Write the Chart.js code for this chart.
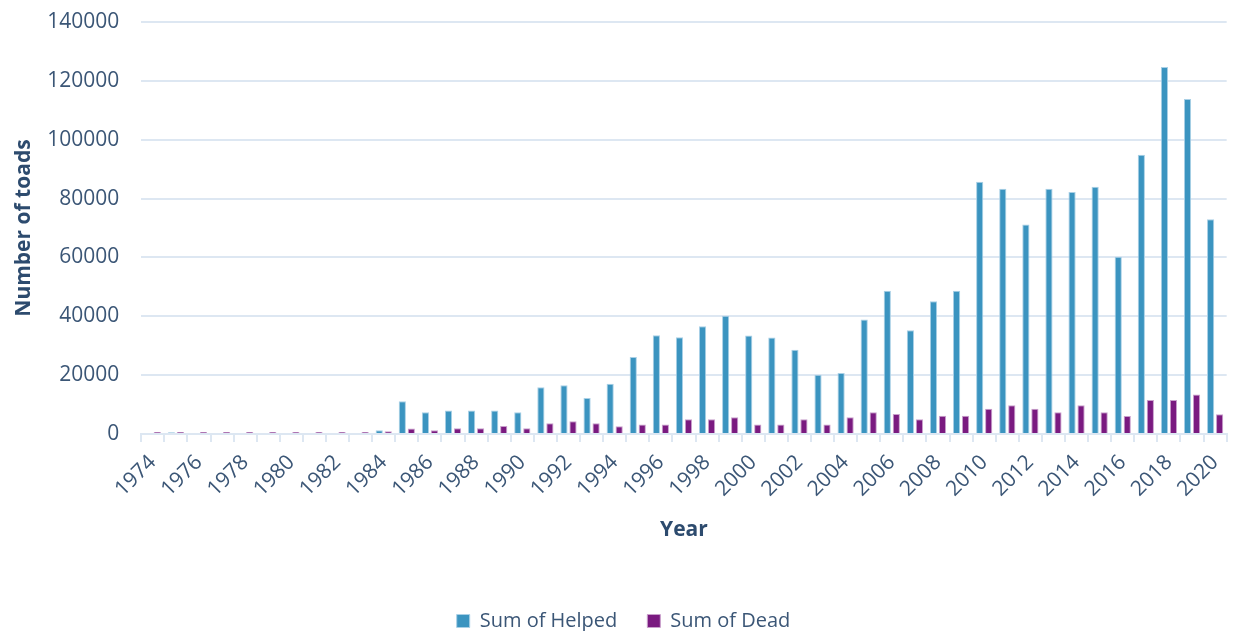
<!DOCTYPE html>
<html>
<head>
<meta charset="utf-8">
<script src="https://cdn.jsdelivr.net/npm/chart.js@4"></script>
<style>
  body { margin: 0; background: #fff; }
  #wrap { width: 1241px; height: 631px; position: relative; }
</style>
</head>
<body>
<div id="wrap"><canvas id="toads"></canvas></div>
<script>
// data
const years = ['1974','1975','1976','1977','1978','1979','1980','1981','1982','1983',
  '1984','1985','1986','1987','1988','1989','1990','1991','1992','1993',
  '1994','1995','1996','1997','1998','1999','2000','2001','2002','2003',
  '2004','2005','2006','2007','2008','2009','2010','2011','2012','2013',
  '2014','2015','2016','2017','2018','2019','2020'];

const helped = [0, 600, 0, 0, 0, 0, 0, 0, 0, 0,
  1300, 11100, 7400, 8000, 8000, 8000, 7400, 15900, 16600, 12200,
  17100, 26200, 33600, 32900, 36600, 40200, 33500, 32800, 28600, 20100,
  20700, 38900, 48700, 35300, 45100, 48700, 85700, 83300, 71200, 83300,
  82200, 84000, 60200, 94900, 124700, 113800, 73000];

const dead = [700, 700, 700, 700, 700, 700, 700, 700, 700, 700,
  900, 1900, 1300, 2000, 2000, 2700, 2000, 3700, 4300, 3700,
  2600, 3200, 3200, 5000, 5000, 5700, 3200, 3200, 5000, 3200,
  5700, 7400, 6800, 5000, 6200, 6200, 8600, 9800, 8600, 7400,
  9800, 7400, 6100, 11600, 11600, 13400, 6700];

const yTicks = [0, 20000, 40000, 60000, 80000, 100000, 120000, 140000];
// data

const textColor = '#3b5676';
const titleColor = '#2d4b6e';
const gridColor = '#dde7f2';

new Chart(document.getElementById('toads'), {
  type: 'bar',
  data: {
    labels: years,
    datasets: [{
      label: 'Sum of Helped',
      data: helped,
      backgroundColor: '#3b94c0',
      borderColor: '#a9d0e6',
      borderWidth: 1,
      categoryPercentage: 0.78,
      barPercentage: 0.8
    }, {
      label: 'Sum of Dead',
      data: dead,
      backgroundColor: '#7a1a80',
      borderColor: '#c9a0cc',
      borderWidth: 1,
      categoryPercentage: 0.78,
      barPercentage: 0.8
    }]
  },
  options: {
    responsive: true,
    maintainAspectRatio: false,
    animation: false,
    layout: { padding: { top: 22, right: 5, left: 11, bottom: -10 } },
    plugins: {
      tooltip: { enabled: false },
      legend: {
        position: 'bottom',
        labels: {
          color: textColor,
          font: { family: 'Open Sans', size: 20 },
          boxWidth: 13,
          boxHeight: 13,
          padding: 30
        }
      }
    },
    scales: {
      x: {
        grid: {
          drawOnChartArea: false,
          drawTicks: true,
          tickLength: 8,
          offset: true,
          color: gridColor,
          lineWidth: 2
        },
        border: { color: gridColor, width: 2 },
        ticks: {
          color: textColor,
          font: { family: 'Open Sans', size: 21 },
          autoSkip: false,
          minRotation: 45,
          maxRotation: 45,
          padding: 8,
          callback: (v, i) => (i % 2 === 0 ? years[i] : '')
        },
        title: {
          display: true,
          text: 'Year',
          color: titleColor,
          font: { family: 'Open Sans', size: 21, weight: 'bold' },
          padding: { top: 8, bottom: 38 }
        }
      },
      y: {
        min: 0,
        max: 140000,
        afterBuildTicks: axis => { axis.ticks = yTicks.map(v => ({ value: v })); },
        // invisible tick marks keep the gap between labels and the plot
        grid: { color: gridColor, lineWidth: 2, drawTicks: true, tickLength: 22, tickColor: 'rgba(0,0,0,0)' },
        border: { display: false },
        ticks: {
          color: textColor,
          font: { family: 'Open Sans', size: 21 },
          padding: 0,
          callback: v => String(v)
        },
        title: {
          display: true,
          text: 'Number of toads',
          color: titleColor,
          font: { family: 'Open Sans', size: 21, weight: 'bold' },
          padding: { top: 0, bottom: 11 }
        }
      }
    }
  }
});
</script>
</body>
</html>
